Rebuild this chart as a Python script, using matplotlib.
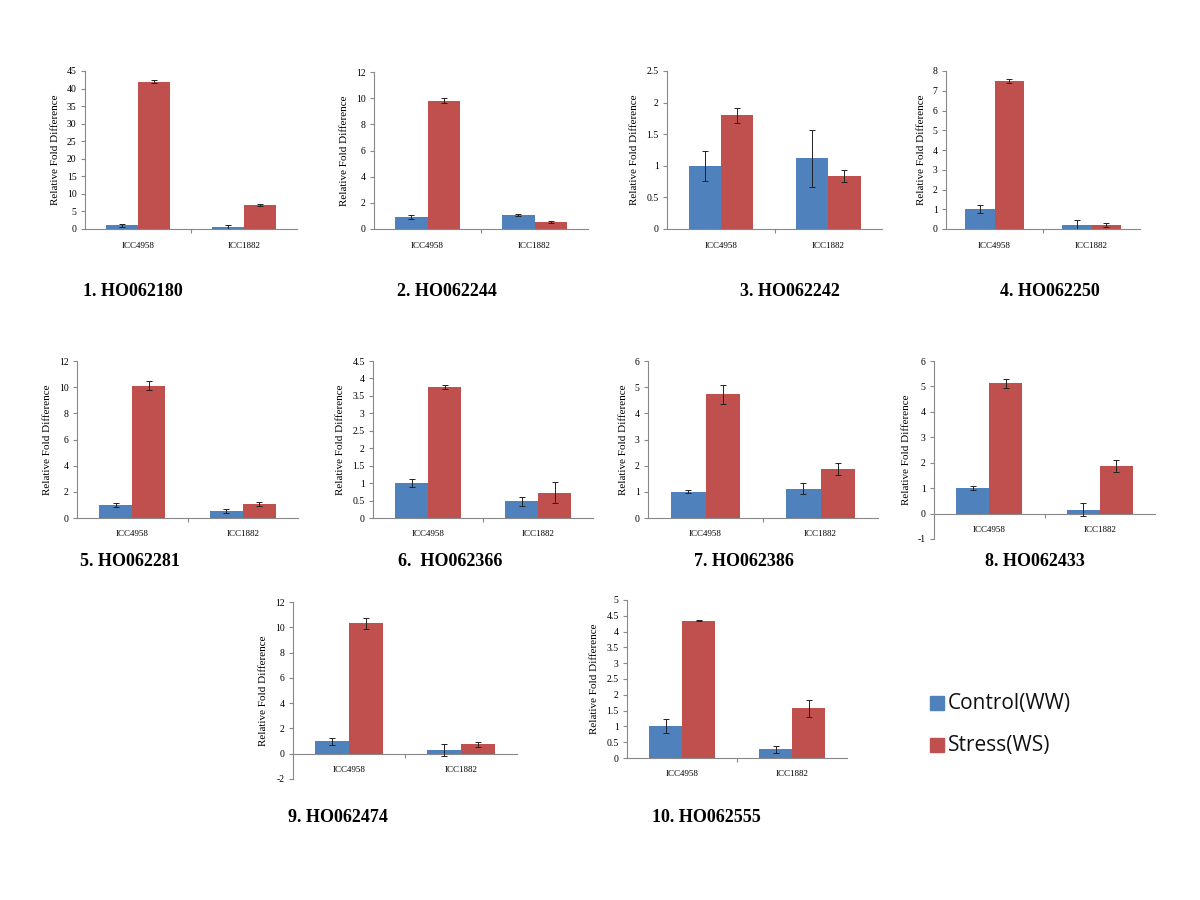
import matplotlib
matplotlib.use("Agg")
import matplotlib.pyplot as plt
from matplotlib.ticker import FuncFormatter
from matplotlib.patches import Rectangle
import numpy as np

categories = ["ICC4958", "ICC1882"]
series_names = ["Control(WW)", "Stress(WS)"]
titles = ["1. HO062180", "2. HO062244", "3. HO062242", "4. HO062250",
          "5. HO062281", "6.  HO062366", "7. HO062386", "8. HO062433",
          "9. HO062474", "10. HO062555"]

control = [[1.0, 0.5], [0.95, 1.05], [1.0, 1.12], [1.0, 0.2], [1.0, 0.5],
           [1.0, 0.48], [1.0, 1.12], [1.0, 0.15], [1.0, 0.3], [1.0, 0.27]]
control_err = [[0.3, 0.7], [0.15, 0.08], [0.24, 0.45], [0.2, 0.25], [0.18, 0.15],
               [0.12, 0.13], [0.06, 0.22], [0.07, 0.25], [0.28, 0.5], [0.22, 0.1]]
stress = [[42.0, 6.8], [9.8, 0.55], [1.8, 0.84], [7.5, 0.22], [10.1, 1.05],
          [3.75, 0.72], [4.72, 1.88], [5.12, 1.88], [10.3, 0.75], [4.35, 1.58]]
stress_err = [[0.3, 0.3], [0.2, 0.08], [0.12, 0.09], [0.12, 0.1], [0.35, 0.15],
              [0.05, 0.3], [0.36, 0.24], [0.18, 0.24], [0.4, 0.18], [0.03, 0.27]]

y_limits = [(0, 45), (0, 12), (0, 2.5), (0, 8), (0, 12),
            (0, 4.5), (0, 6), (-1, 6), (-2, 12), (0, 5)]
y_steps = [5, 2, 0.5, 1, 2, 0.5, 1, 1, 2, 0.5]

# axes boxes in pixels: (left, right, top, bottom)
boxes = [(85, 297, 71, 229), (374, 588, 72, 229), (667, 882, 71, 229), (946, 1140, 71, 229),
         (77, 298, 361, 518), (373, 593, 361, 518), (648, 878, 361, 518), (934, 1155, 361, 539),
         (293, 517, 602, 779), (627, 847, 600, 758)]
title_pos = [(83, 292), (397, 292), (740, 292), (1000, 292),
             (80, 562), (398, 562), (694, 562), (985, 562),
             (288, 818), (652, 818)]

BLUE = "#4F81BD"
RED = "#C0504D"
W, H = 1200, 900

fig = plt.figure(figsize=(12, 9), dpi=100)
fig.patch.set_facecolor("white")

fmt = FuncFormatter(lambda v, p: ("%g" % round(v, 6)))
x = np.arange(len(categories))
bw = 0.3

for i in range(10):
    l, r, t, b = boxes[i]
    ax = fig.add_axes([l / W, 1 - b / H, (r - l) / W, (b - t) / H])
    ax.bar(x - bw / 2, control[i], bw, color=BLUE, zorder=2)
    ax.bar(x + bw / 2, stress[i], bw, color=RED, zorder=2)
    ax.errorbar(x - bw / 2, control[i], yerr=control_err[i], fmt="none",
                ecolor="#222222", elinewidth=0.7, capsize=2, capthick=0.7, zorder=3)
    ax.errorbar(x + bw / 2, stress[i], yerr=stress_err[i], fmt="none",
                ecolor="#222222", elinewidth=0.7, capsize=2, capthick=0.7, zorder=3)
    lo, hi = y_limits[i]
    ax.set_ylim(lo, hi)
    ax.set_xlim(-0.5, 1.5)
    ax.set_yticks(np.arange(lo, hi + y_steps[i] / 2, y_steps[i]))
    ax.yaxis.set_major_formatter(fmt)
    ax.spines["top"].set_visible(False)
    ax.spines["right"].set_visible(False)
    ax.spines["bottom"].set_position(("data", 0))
    for s in ("left", "bottom"):
        ax.spines[s].set_color("#888888")
        ax.spines[s].set_linewidth(0.8)
    ax.set_xticks([0.5])
    ax.set_xticklabels([""])
    ax.set_xticks(x, minor=True)
    ax.set_xticklabels(categories, minor=True, fontsize=6.5, family="Liberation Serif")
    ax.tick_params(axis="x", which="minor", length=0, pad=9)
    ax.tick_params(axis="x", which="major", length=3, direction="out", color="#888888")
    ax.tick_params(axis="y", length=3, direction="out", color="#888888",
                   labelsize=7, pad=3)
    for lab in ax.get_yticklabels():
        lab.set_family("Liberation Serif")
    ax.set_ylabel("Relative Fold Difference", fontsize=8, family="Liberation Serif",
                  labelpad=5)
    ax.patch.set_alpha(0)
    tx, ty = title_pos[i]
    fig.text(tx / W, 1 - ty / H, titles[i], fontsize=13, fontweight="bold",
             family="Liberation Serif", va="center", ha="left")

# legend
for j, (name, col) in enumerate(zip(series_names, [BLUE, RED])):
    yc = 703 + j * 42
    fig.patches.append(Rectangle((930 / W, 1 - (yc + 7) / H), 14 / W, 14 / H,
                                 transform=fig.transFigure, color=col, figure=fig))
    fig.text(948 / W, 1 - yc / H, name, fontsize=15, family="Open Sans",
             va="center", ha="left", color="#111111")

fig.savefig("out.png", dpi=100, facecolor="white")
